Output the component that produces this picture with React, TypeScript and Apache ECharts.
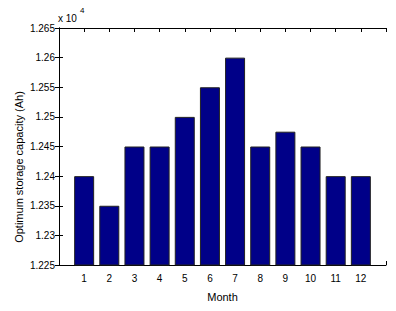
import React, { useEffect, useRef } from "react";
import * as echarts from "echarts";

const months = [1, 2, 3, 4, 5, 6, 7, 8, 9, 10, 11, 12];
const capacity = [12400, 12350, 12450, 12450, 12500, 12550, 12600, 12450, 12475, 12450, 12400, 12400];
const yMin = 12250;
const yMax = 12650;
const yStep = 50;

export default function App() {
  const ref = useRef<HTMLDivElement>(null);
  useEffect(() => {
    const chart = echarts.init(ref.current!, null, { renderer: "svg" });
    const font = "'Liberation Sans', Arial, sans-serif";
    const fmtY = (v: number) => parseFloat((v / 10000).toFixed(4)).toString();
    const fmtX = (v: number) => (v >= 1 && v <= 12 ? String(v) : "");
    const tickStyle = { color: "#000", width: 1 };
    chart.setOption({
      animation: false,
      backgroundColor: "#fff",
      grid: { left: 59, right: 10, top: 28, bottom: 46, containLabel: false },
      xAxis: [
        {
          type: "value",
          min: 0,
          max: 13,
          interval: 1,
          position: "bottom",
          name: "Month",
          nameLocation: "middle",
          nameGap: 26,
          nameTextStyle: { fontFamily: font, fontSize: 11, color: "#000" },
          axisLine: { show: true, lineStyle: { color: "#000", width: 1 } },
          axisTick: { show: true, inside: true, length: 4, lineStyle: tickStyle },
          axisLabel: { formatter: fmtX, fontFamily: font, fontSize: 10, color: "#000", margin: 8 },
          splitLine: { show: false },
        },
        {
          type: "value",
          min: 0,
          max: 13,
          interval: 1,
          position: "top",
          axisLine: { show: true, lineStyle: { color: "#000", width: 1 } },
          axisTick: { show: true, inside: true, length: 4, lineStyle: tickStyle },
          axisLabel: { show: false },
          splitLine: { show: false },
        },
      ],
      yAxis: [
        {
          type: "value",
          min: yMin,
          max: yMax,
          interval: yStep,
          position: "left",
          axisLine: { show: true, lineStyle: { color: "#000", width: 1 } },
          axisTick: { show: true, inside: true, length: 4, lineStyle: tickStyle },
          axisLabel: { formatter: fmtY, fontFamily: font, fontSize: 10, color: "#000", margin: 4 },
          splitLine: { show: false },
        },
        {
          type: "value",
          min: yMin,
          max: yMax,
          interval: yStep,
          position: "right",
          axisLine: { show: true, lineStyle: { color: "#000", width: 1 } },
          axisTick: { show: true, inside: true, length: 4, lineStyle: tickStyle },
          axisLabel: { show: false },
          splitLine: { show: false },
        },
      ],
      graphic: [
        {
          type: "text",
          x: 19,
          y: 167,
          rotation: Math.PI / 2,
          style: {
            text: "Optimum storage capacity (Ah)",
            fontFamily: font,
            fontSize: 11,
            fill: "#000",
            align: "center",
            verticalAlign: "middle",
          },
        },
        {
          type: "text",
          x: 58,
          y: 18,
          style: { text: "x 10", fontFamily: font, fontSize: 10, fill: "#000", verticalAlign: "middle" },
        },
        {
          type: "text",
          x: 80,
          y: 10,
          style: { text: "4", fontFamily: font, fontSize: 8, fill: "#000", verticalAlign: "middle" },
        },
      ],
      series: [
        {
          type: "bar",
          xAxisIndex: 0,
          yAxisIndex: 0,
          data: months.map((m, i) => [m, capacity[i]]),
          barWidth: 20,
          itemStyle: { color: "#000088", borderColor: "#222", borderWidth: 1 },
        },
      ],
    });
    return () => chart.dispose();
  }, []);
  return <div ref={ref} style={{ width: 396, height: 311, margin: -8 }} />;
}
